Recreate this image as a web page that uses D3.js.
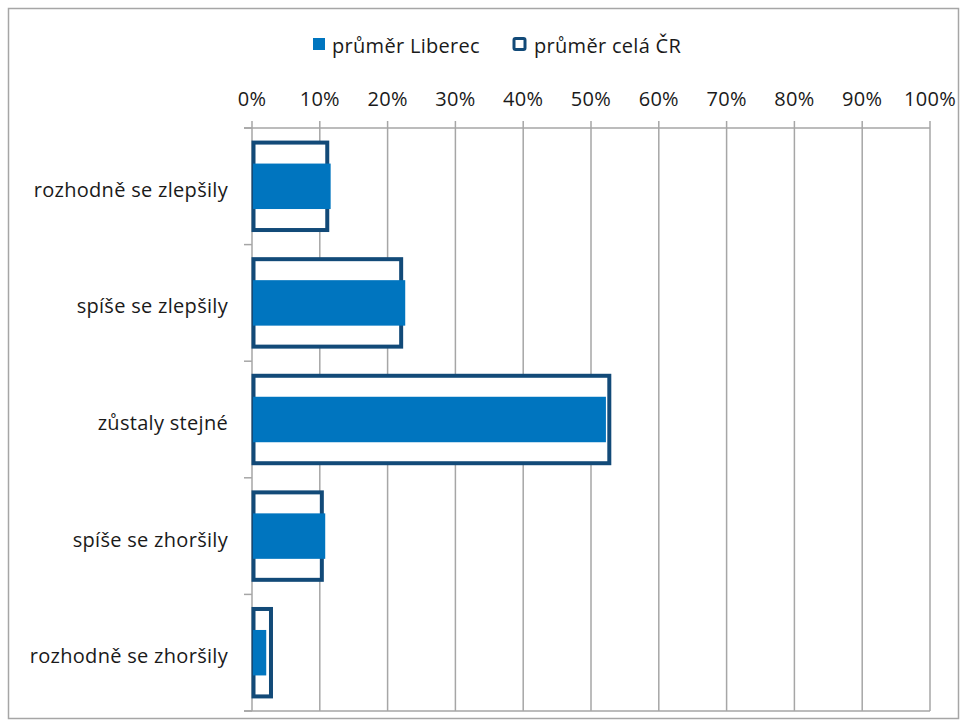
<!DOCTYPE html>
<html><head><meta charset="utf-8">
<script src="https://cdn.jsdelivr.net/npm/d3@7"></script>
<style>
body{margin:0;background:#fff;}
text{font-family:"Open Sans","Noto Sans",sans-serif;fill:#1a1a1a;letter-spacing:0.3px;}
</style></head>
<body><svg id="c" width="970" height="727"></svg>
<script>
const categories = ["rozhodně se zlepšily","spíše se zlepšily","zůstaly stejné","spíše se zhoršily","rozhodně se zhoršily"];
const liberec = [11.6, 22.6, 52.2, 10.8, 2.1];
const celaCR = [11.1, 22.0, 52.7, 10.3, 2.8];
const tickValues = [0,10,20,30,40,50,60,70,80,90,100];
const seriesNames = ["průměr Liberec","průměr celá ČR"];

const svg = d3.select("#c");
const L=252, R=930, T=128, B=711;
const FS = 20;
const x = d3.scaleLinear().domain([0,100]).range([L,R]);
const y = d3.scaleBand().domain(categories).range([T,B]);
const grid="#a6a6a6";

svg.append("rect").attr("x",8.5).attr("y",8.5).attr("width",950).attr("height",710)
  .attr("fill","none").attr("stroke","#a6a6a6").attr("stroke-width",1.5);

svg.append("g").selectAll("line").data(tickValues).join("line")
  .attr("x1",d=>x(d)).attr("x2",d=>x(d)).attr("y1",T-7).attr("y2",B)
  .attr("stroke",grid).attr("stroke-width",1.5);
svg.append("line").attr("x1",L-8).attr("x2",R).attr("y1",T).attr("y2",T).attr("stroke",grid).attr("stroke-width",1.5);
svg.append("line").attr("x1",L-8).attr("x2",R).attr("y1",B).attr("y2",B).attr("stroke",grid).attr("stroke-width",1.5);
const bounds = categories.map(c=>y(c)).concat([B]);
svg.append("g").selectAll("line").data(bounds).join("line")
  .attr("x1",L-8).attr("x2",L).attr("y1",d=>d).attr("y2",d=>d)
  .attr("stroke",grid).attr("stroke-width",1.5);

svg.append("g").selectAll("text").data(tickValues).join("text")
  .attr("x",d=>x(d)).attr("y",106).attr("text-anchor","middle")
  .attr("font-size",FS).text(d=>d+"%");
svg.append("g").selectAll("text").data(categories).join("text")
  .attr("x",228).attr("y",d=>y(d)+y.bandwidth()/2+10.5).attr("text-anchor","end")
  .attr("font-size",FS).text(d=>d);

const bw = y.bandwidth();
const outH = bw*0.75, inH = bw*0.39;
svg.append("g").selectAll("rect").data(categories).join("rect")
  .attr("x",x(0)+1.5).attr("y",(d)=>y(d)+(bw-outH)/2)
  .attr("width",(d,i)=>x(celaCR[i])-x(0)-1.5).attr("height",outH)
  .attr("fill","#fff").attr("stroke","#124a78").attr("stroke-width",4);
svg.append("g").selectAll("rect").data(categories).join("rect")
  .attr("x",x(0)+1).attr("y",(d)=>y(d)+(bw-inH)/2)
  .attr("width",(d,i)=>x(liberec[i])-x(0)-1).attr("height",inH)
  .attr("fill","#0075bf");

const lg = svg.append("g");
lg.append("rect").attr("x",313).attr("y",38).attr("width",12).attr("height",12).attr("fill","#0075bf");
lg.append("text").attr("x",332).attr("y",53).attr("font-size",FS).attr("letter-spacing","0.8px").text(seriesNames[0]);
lg.append("rect").attr("x",514).attr("y",38.5).attr("width",11).attr("height",11).attr("fill","#fff").attr("stroke","#124a78").attr("stroke-width",3).attr("rx",1.5);
lg.append("text").attr("x",534).attr("y",53).attr("font-size",FS).attr("letter-spacing","0.5px").text(seriesNames[1]);
</script></body></html>
